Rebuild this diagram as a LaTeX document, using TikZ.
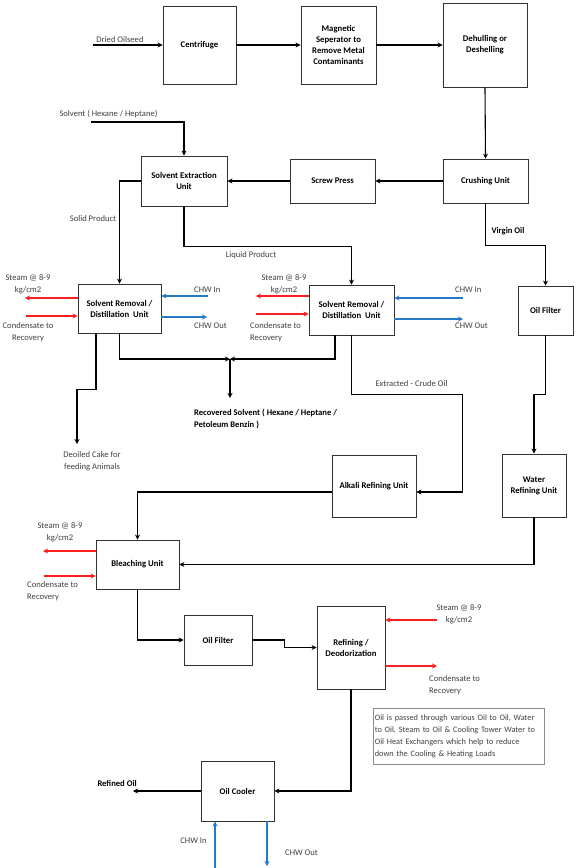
\documentclass[tikz,border=0pt]{standalone}
\usepackage{fontspec}
\setmainfont{Carlito}
\usetikzlibrary{arrows.meta}
\definecolor{steamred}{RGB}{255,30,30}
\definecolor{chwblue}{RGB}{40,120,200}
\definecolor{labelgray}{RGB}{64,64,64}
\tikzset{
  unit/.style={draw=black!80, line width=0.8pt, fill=white, inner sep=1pt, align=center, font=\fontsize{8.7}{11}\selectfont\bfseries},
  flow/.style={-{Stealth[length=5pt,width=5pt]}, black, line width=1.1pt},
  steam/.style={-{Stealth[length=5pt,width=5pt]}, steamred, line width=1.2pt},
  chw/.style={-{Stealth[length=5pt,width=5pt]}, chwblue, line width=1.2pt},
  lbl/.style={font=\fontsize{8.6}{12}\selectfont, text=labelgray, inner sep=0pt, align=center},
  lblb/.style={font=\fontsize{8.6}{12}\selectfont\bfseries, text=black, inner sep=0pt, align=left},
  nota/.style={draw=black!45, line width=0.6pt, font=\fontsize{8.3}{12}\selectfont, text=labelgray, align=left, inner sep=1.5pt, anchor=north west},
}
\begin{document}
\begin{tikzpicture}[x=1pt, y=-1pt]
  \useasboundingbox (0,0) rectangle (576,868);

  % ---------------- unidades ----------------
  \node[unit, minimum width=73pt, minimum height=78pt] (centrifuge) at (199.5,45) {Centrifuge};
  \node[unit, minimum width=75pt, minimum height=78pt] (magnetic) at (338.5,45) {Magnetic\\Seperator to\\Remove Metal\\Contaminants};
  \node[unit, minimum width=84pt, minimum height=84pt] (dehulling) at (485,45) {Dehulling or\\Deshelling};
  \node[unit, minimum width=85pt, minimum height=44pt] (crushing) at (485.5,181) {Crushing Unit};
  \node[unit, minimum width=85pt, minimum height=44pt] (screw) at (332.5,181) {Screw Press};
  \node[unit, minimum width=86pt, minimum height=50pt] (solvext) at (184,181) {Solvent Extraction\\Unit};
  \node[unit, minimum width=83pt, minimum height=49pt] (sr1) at (119.5,308.5) {Solvent Removal /\\Distillation~ Unit};
  \node[unit, minimum width=85pt, minimum height=50pt] (sr2) at (351.5,310) {Solvent Removal /\\Distillation~ Unit};
  \node[unit, minimum width=55pt, minimum height=49pt] (filter1) at (545.5,310.5) {Oil Filter};
  \node[unit, minimum width=84pt, minimum height=62pt] (alkali) at (374,486) {Alkali Refining Unit};
  \node[unit, minimum width=64pt, minimum height=63pt] (water) at (534,485.5) {Water\\Refining Unit};
  \node[unit, minimum width=83pt, minimum height=49pt] (bleach) at (137.5,564.5) {Bleaching Unit};
  \node[unit, minimum width=68pt, minimum height=50pt] (filter2) at (218,640) {Oil Filter};
  \node[unit, minimum width=68pt, minimum height=83pt] (refine) at (351,647.5) {Refining /\\Deodorization};
  \node[unit, minimum width=73pt, minimum height=60pt] (cooler) at (237.5,791) {Oil Cooler};
  \node[nota, text width=168pt, minimum height=56pt] (note) at (373,708) {Oil is passed through various Oil to Oil, Water\\to Oil, Steam to Oil \& Cooling Tower Water to\\Oil Heat Exchangers which help to reduce\\down the Cooling \& Heating Loads};

  % ---------------- pontas livres ----------------
  \coordinate (seed) at (93,45);
  \coordinate (solvin) at (91,122);
  \coordinate (join) at (230,359);
  \coordinate (solvrec) at (230,398);
  \coordinate (cake) at (77,444);
  \coordinate (refined) at (133,791);

  % ---------------- linha principal ----------------
  \draw[flow] (seed) -- (centrifuge.west);
  \draw[flow] (centrifuge.east) -- (magnetic.west);
  \draw[flow] (magnetic.east) -- (dehulling.west);
  \draw[flow] (dehulling.south) -- (crushing.north);
  \draw[flow] (crushing.west) -- (screw.east);
  \draw[flow] (screw.west) -- (solvext.east);
  \draw[flow] (solvin) -| (solvext.north);
  \draw[flow] (solvext.west) -| (sr1.north);
  \draw[flow] (solvext.south) -- ++(0,40) -| (sr2.north);
  \draw[flow] (crushing.south) -- ++(0,42) -| (filter1.north);
  \draw[flow] (sr1.south) |- (join);
  \draw[flow] ([xshift=-16.5pt]sr2.south) |- (join);
  \draw[flow] (join) -- (solvrec);
  \draw[flow] ([xshift=-23.5pt]sr1.south) -- ++(0,56) -| (cake);
  \draw[flow] (sr2.south) -- ++(0,59) -| ([xshift=46pt,yshift=-6pt]alkali.east) -- ([yshift=-6pt]alkali.east);
  \draw[flow] (filter1.south) -- ++(0,59) -| (water.north);
  \draw[flow] ([yshift=-6pt]alkali.west) -| (bleach.north);
  \draw[flow] (water.south) |- (bleach.east);
  \draw[flow] (bleach.south) |- (filter2.west);
  \draw[flow] (filter2.east) -- ++(32,0) |- (refine.west);
  \draw[flow] (refine.south) |- (cooler.east);
  \draw[flow] (cooler.west) -- (refined);

  % ---------------- vapor e CHW ----------------
  \coordinate (sr1steam) at (25,298);
  \coordinate (sr1cond) at (26,316);
  \coordinate (sr1chwin) at (208,296);
  \coordinate (sr1chwout) at (207,317);
  \draw[steam] ([yshift=10.5pt]sr1.west) -- (sr1steam);
  \draw[steam] (sr1cond) -- ([yshift=-7.5pt]sr1.west);
  \draw[chw] (sr1chwin) -- ([yshift=12.5pt]sr1.east);
  \draw[chw] ([yshift=-8.5pt]sr1.east) -- (sr1chwout);

  \coordinate (sr2steam) at (256,296);
  \coordinate (sr2cond) at (256,314);
  \coordinate (sr2chwin) at (463,298);
  \coordinate (sr2chwout) at (463,319);
  \draw[steam] ([yshift=14pt]sr2.west) -- (sr2steam);
  \draw[steam] (sr2cond) -- ([yshift=-4pt]sr2.west);
  \draw[chw] (sr2chwin) -- ([yshift=12pt]sr2.east);
  \draw[chw] ([yshift=-9pt]sr2.east) -- (sr2chwout);

  \coordinate (blsteam) at (43,551);
  \coordinate (blcond) at (44,576);
  \draw[steam] ([yshift=13.5pt]bleach.west) -- (blsteam);
  \draw[steam] (blcond) -- ([yshift=-11.5pt]bleach.west);

  \coordinate (rfsteam) at (437,620);
  \coordinate (rfcond) at (437,666);
  \draw[steam] (rfsteam) -- ([yshift=27.5pt]refine.east);
  \draw[steam] ([yshift=-18.5pt]refine.east) -- (rfcond);

  \coordinate (clchwin) at (215,868);
  \coordinate (clchwout) at (267,866);
  \draw[chw] (clchwin) -- ([xshift=-22.5pt]cooler.south);
  \draw[chw] ([xshift=29.5pt]cooler.south) -- (clchwout);

  % ---------------- textos ----------------
  \node[lbl] (tseed) at (120,40) {Dried Oilseed};
  \node[lbl] (tsolv) at (108.5,114) {Solvent ( Hexane / Heptane)};
  \node[lbl] (tsolid) at (93,219) {Solid Product};
  \node[lbl] (tliquid) at (251,255) {Liquid Product};
  \node[lblb] (tvirgin) at (508,231) {Virgin Oil};
  \node[lbl] (tsr1steam) at (28,284) {Steam @ 8-9\\kg/cm2};
  \node[lbl] (tsr1cond) at (28,332) {Condensate to\\Recovery};
  \node[lbl, anchor=west] (tsr1in) at (194,290) {CHW In};
  \node[lbl, anchor=west] (tsr1out) at (194,326) {CHW Out};
  \node[lbl] (tsr2steam) at (284,284) {Steam @ 8-9\\kg/cm2};
  \node[lbl, anchor=west, align=left] (tsr2cond) at (250,332) {Condensate to\\Recovery};
  \node[lbl, anchor=west] (tsr2in) at (455,290) {CHW In};
  \node[lbl, anchor=west] (tsr2out) at (455,326) {CHW Out};
  \node[lblb, anchor=west] (trec) at (194,419) {Recovered Solvent ( Hexane / Heptane /\\Petoleum Benzin )};
  \node[lbl] (tcake) at (92,461) {Deoiled Cake for\\feeding Animals};
  \node[lbl] (tcrude) at (411.5,384) {Extracted - Crude Oil};
  \node[lbl] (tblsteam) at (60,532.5) {Steam @ 8-9\\kg/cm2};
  \node[lbl, anchor=west, align=left] (tblcond) at (27,591) {Condensate to\\Recovery};
  \node[lbl] (trfsteam) at (459,614) {Steam @ 8-9\\kg/cm2};
  \node[lbl, anchor=west, align=left] (trfcond) at (429,685) {Condensate to\\Recovery};
  \node[lblb, anchor=east] (trefined) at (137,783) {Refined Oil};
  \node[lbl] (tclin) at (193.5,841) {CHW In};
  \node[lbl] (tclout) at (301.5,853) {CHW Out};
\end{tikzpicture}
\end{document}
